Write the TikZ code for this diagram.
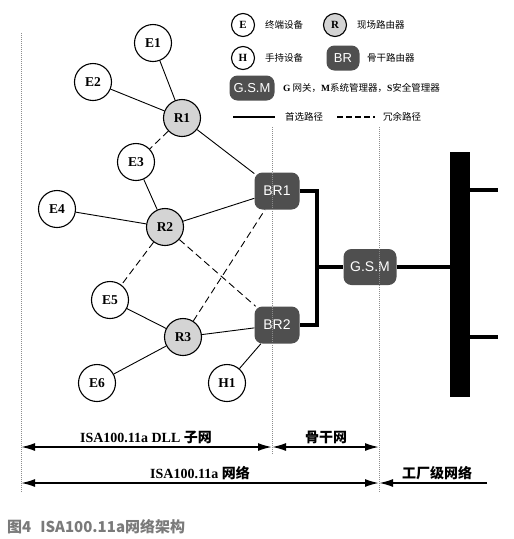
\documentclass[tikz,border=0pt]{standalone}
\usepackage{fontspec}
\setmainfont{Liberation Serif}
\setsansfont{Liberation Sans}
\newfontfamily\cjk{Noto Sans CJK SC}
\definecolor{isaRouter}{HTML}{D4D4D4}
\definecolor{isaBackbone}{HTML}{4F4F4F}
\definecolor{isaGrid}{HTML}{8C8C8C}
\definecolor{isaCaption}{HTML}{7A7A7A}
\usetikzlibrary{arrows.meta, positioning, calc}

\begin{document}
\begin{tikzpicture}[x=1pt, y=-1pt,
    endDev/.style={circle, draw, line width=1.1pt, fill=white, minimum size=37pt,
      inner sep=0pt, font=\fontsize{13.5}{13.5}\selectfont\bfseries},
    router/.style={endDev, fill=isaRouter},
    legDev/.style={endDev, minimum size=23pt, font=\fontsize{11}{11}\selectfont\bfseries},
    bbRouter/.style={rounded corners=8pt, fill=isaBackbone, text=white,
      minimum width=45pt, minimum height=37pt, inner sep=0pt,
      font=\sffamily\fontsize{14}{14}\selectfont},
    legText/.style={anchor=west, inner sep=0pt, font=\cjk\fontsize{9.5}{9.5}\selectfont},
    link/.style={line width=0.9pt},
    spare/.style={link, dash pattern=on 7pt off 4pt},
    trunk/.style={line width=3.5pt},
    zone/.style={isaGrid, dash pattern=on 1pt off 1pt, line width=0.8pt},
    span/.style={line width=1.8pt},
    tip/.tip={Latex[length=14pt,width=8pt]},
    spanText/.style={inner sep=0pt, font=\fontsize{14}{14}\selectfont\bfseries}]
  \useasboundingbox (0,0) rectangle (514,539);

  % legend
  \node[legDev] (legE) at (243,25) {E};
  \node[legText] (legEtxt) at (265,25) {终端设备};
  \node[legDev, fill=isaRouter] (legR) at (335,25) {R};
  \node[legText] (legRtxt) at (357,25) {现场路由器};
  \node[legDev] (legH) at (243,58) {H};
  \node[legText] (legHtxt) at (265,58) {手持设备};
  \node[bbRouter, minimum width=33pt, minimum height=25pt, font=\sffamily\fontsize{13}{13}\selectfont] (legBR) at (343,58) {BR};
  \node[legText] (legBRtxt) at (367,58) {骨干路由器};
  \node[bbRouter, minimum width=45pt, minimum height=25pt, font=\sffamily\fontsize{13}{13}\selectfont] (legGSM) at (252,88) {G.S.M};
  \node[legText] (legGSMtxt) at (283,88) {{\rmfamily\bfseries G} 网关，{\rmfamily\bfseries M}系统管理器，{\rmfamily\bfseries S}安全管理器};
  \draw[link, line width=1.3pt] (233,117) -- (275,117);
  \node[legText] (legPref) at (285,117) {首选路径};
  \draw[link, line width=1.3pt, dash pattern=on 6pt off 3pt] (337,117) -- (375,117);
  \node[legText] (legSpare) at (383,117) {冗余路径};

  % field devices and routers
  \node[endDev] (E1) at (153,43) {E1};
  \node[endDev] (E2) at (93,82) {E2};
  \node[router] (R1) at (182,118) {R1};
  \node[endDev] (E3) at (136,162) {E3};
  \node[endDev] (E4) at (57,209) {E4};
  \node[router] (R2) at (165,227) {R2};
  \node[endDev] (E5) at (110,300) {E5};
  \node[router] (R3) at (183,337) {R3};
  \node[endDev] (E6) at (97,383) {E6};
  \node[endDev] (H1) at (227,383) {H1};

  % backbone
  \node[bbRouter] (BR1) at (277,191) {BR1};
  \node[bbRouter] (BR2) at (277,325) {BR2};
  \node[bbRouter, minimum width=53pt, minimum height=36pt] (GSM) at (370,267) {G.S.M};
  \node[fill=black, inner sep=0pt, minimum width=20pt, minimum height=245pt] (bus) at (460,274.5) {};
  \coordinate (jn) at (317,267);

  \draw[link] (E1) -- (R1);
  \draw[link] (E2) -- (R1);
  \draw[spare] (R1) -- (E3);
  \draw[link] (R1) -- (BR1);
  \draw[link] (E3) -- (R2);
  \draw[link] (E4) -- (R2);
  \draw[link] (R2) -- (BR1);
  \draw[spare] (R2) -- (E5);
  \draw[spare] (R2) -- (BR2);
  \draw[link] (E5) -- (R3);
  \draw[spare] (R3) -- (BR1);
  \draw[link] (R3) -- (BR2);
  \draw[link] (E6) -- (R3);
  \draw[link] (H1) -- (BR2);

  \draw[trunk] (BR1.east) -| (jn) |- (BR2.east);
  \draw[trunk] (jn) -- (GSM.west);
  \draw[trunk] (GSM.east) -- (GSM -| bus.west);
  \draw[trunk] ($(bus.north east)+(0,38)$) -- ++(28,0);
  \draw[trunk] ($(bus.north east)+(0,185)$) -- ++(28,0);

  % network borders
  \draw[zone] (21,33) -- (21,492);
  \draw[zone] (272,127) -- (272,455);
  \draw[zone] (379,127) -- (379,492);

  \coordinate (dllL) at (21,447);
  \coordinate (dllR) at (272,447);
  \coordinate (bbR) at (379,447);
  \coordinate (isaL) at (21,483);
  \coordinate (isaR) at (379,483);
  \coordinate (plantR) at (487,483);
  \draw[span, tip-tip] (dllL) -- (dllR);
  \draw[span, tip-tip] (dllR) -- (bbR);
  \draw[span, tip-tip] (isaL) -- (isaR);
  \draw[span, -tip] (plantR) -- (isaR);
  \node[spanText] (dllTxt) at (146,437) {ISA100.11a DLL {\cjk 子网}};
  \node[spanText] (bbTxt) at (326,437) {\cjk 骨干网};
  \node[spanText] (isaTxt) at (200,473) {ISA100.11a {\cjk 网络}};
  \node[spanText] (plantTxt) at (437,473) {\cjk 工厂级网络};

  \node[anchor=west, inner sep=0pt, text=isaCaption, font=\cjk\bfseries\fontsize{15}{15}\selectfont] (caption) at (7,527) {图4\hspace{9pt}ISA100.11a网络架构};
\end{tikzpicture}
\end{document}
